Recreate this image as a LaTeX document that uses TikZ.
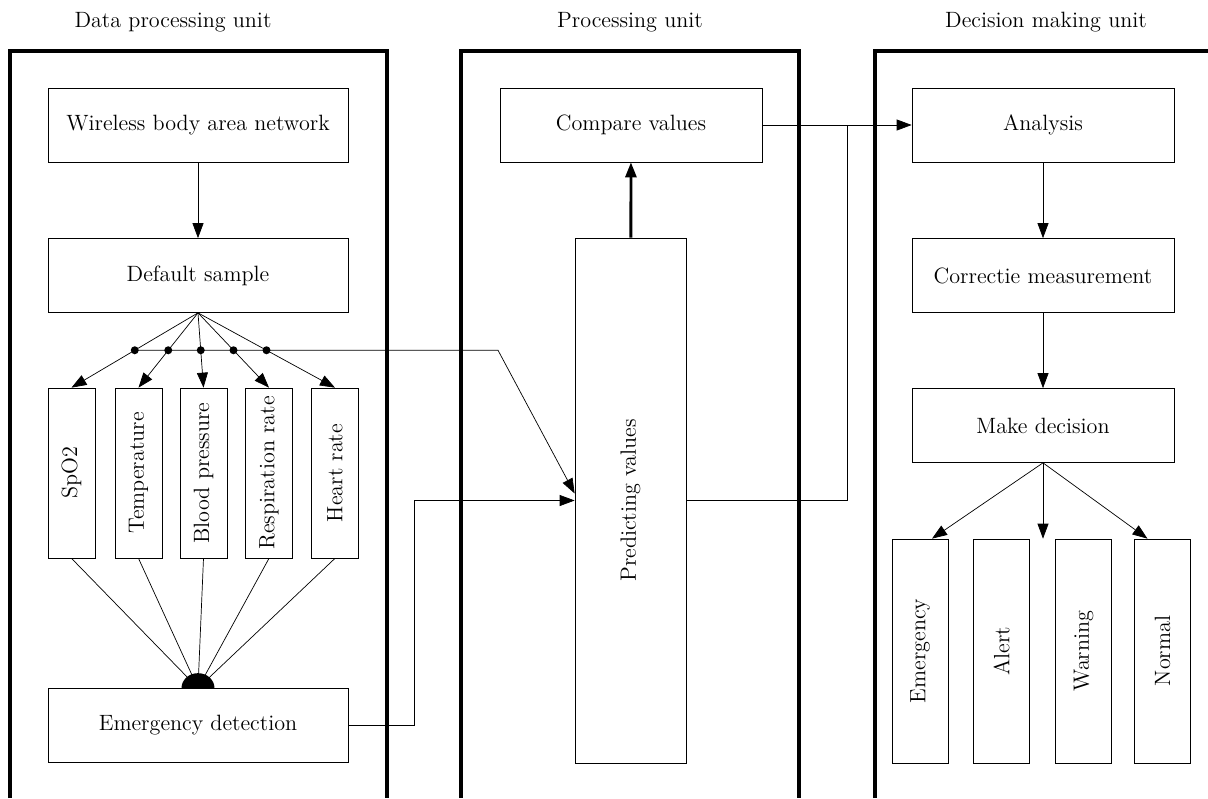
\documentclass[tikz,border=0pt]{standalone}
\usepackage{graphicx}
\usetikzlibrary{arrows.meta, positioning, calc}

\begin{document}
\begin{tikzpicture}[
    >={Triangle[length=3mm, width=2.2mm]},
    font=\fontsize{12.6}{15}\selectfont,
    box/.style={draw, minimum width=6cm, minimum height=1.48cm, align=center},
    pbox/.style={draw, minimum width=5.24cm, minimum height=1.48cm, align=center},
    sensor/.style={draw, minimum width=0.94cm, minimum height=3.4cm, inner sep=1pt},
    outcome/.style={draw, minimum width=1.12cm, minimum height=4.48cm, inner sep=1pt},
    unit/.style={line width=1.8pt},
    dot/.style={circle, fill, inner sep=0pt, minimum size=1.6mm},
]
    \useasboundingbox (0,0) rectangle (24.16,-15.96);

    % Unit frames
    \draw[unit] (0.2,-15.96) -- (0.2,-1.02) -- (7.74,-1.02) -- (7.74,-15.96);
    \draw[unit] (9.22,-15.96) -- (9.22,-1.02) -- (15.98,-1.02) -- (15.98,-15.96);
    \draw[unit] (17.5,-15.96) -- (17.5,-1.02) -- (24.16,-1.02);
    \node (t1) at (3.46,-0.44) {Data processing unit};
    \node (t2) at (12.6,-0.44) {Processing unit};
    \node (t3) at (20.92,-0.44) {Decision making unit};

    % Data processing unit
    \node[box] (wban) at (3.96,-2.5) {Wireless body area network};
    \node[box] (dflt) at (3.96,-5.51) {Default sample};
    \node[sensor] (s1) at (1.43,-9.46) {\rotatebox{90}{SpO2}};
    \node[sensor] (s2) at (2.77,-9.46) {\rotatebox{90}{Temperature}};
    \node[sensor] (s3) at (4.07,-9.46) {\rotatebox{90}{Blood pressure}};
    \node[sensor] (s4) at (5.38,-9.46) {\rotatebox{90}{Respiration rate}};
    \node[sensor] (s5) at (6.70,-9.46) {\rotatebox{90}{Heart rate}};
    \node[box] (emdet) at (3.96,-14.51) {Emergency detection};

    \draw[->] (wban) -- (dflt);
    \foreach \i in {1,...,5} {
        \draw[->] (dflt.south) -- coordinate[pos=0.5] (d\i) (s\i.north);
        \node[dot] at (d\i) {};
        \draw (s\i.south) -- (emdet.north);
    }
    \fill (emdet.north) ++(0.33,0) arc[start angle=0, end angle=180, x radius=0.33, y radius=0.3] -- cycle;

    % Processing unit
    \node[pbox] (cmp) at (12.62,-2.5) {Compare values};
    \node[draw, minimum width=2.22cm, minimum height=10.5cm] (pred) at (12.61,-10.01) {\rotatebox{90}{Predicting values}};
    \coordinate (kink) at (9.96,-7.02);
    \draw[->] (d1) -- (kink |- d1) -- ($(pred.west)+(0,0.14)$);
    \draw[->] (emdet.east) -- ++(1.32,0) |- (pred.west);
    \draw[->, line width=1.6pt] (pred) -- (cmp);

    % Decision making unit
    \node[pbox] (ana) at (20.86,-2.5) {Analysis};
    \node[pbox] (corr) at (20.86,-5.51) {Correctie measurement};
    \node[pbox] (dec) at (20.86,-8.51) {Make decision};
    \node[outcome] (o1) at (18.40,-13.02) {\rotatebox{90}{Emergency}};
    \node[outcome] (o2) at (20.03,-13.02) {\rotatebox{90}{Alert}};
    \node[outcome] (o3) at (21.67,-13.02) {\rotatebox{90}{Warning}};
    \node[outcome] (o4) at (23.25,-13.02) {\rotatebox{90}{Normal}};

    \coordinate (junc) at ($(cmp.east)+(1.7,0)$);
    \draw[->] (cmp.east) -- (ana.west);
    \draw (pred.east) -| (junc);
    \draw[->] (ana) -- (corr);
    \draw[->] (corr) -- (dec);
    \draw[->] (dec.south) -- ($(o1.north)+(0.24,0)$);
    \draw[->] (dec.south) -- (dec.south |- o1.north);
    \draw[->] (dec.south) -- ($(o4.north)+(-0.3,0)$);
\end{tikzpicture}
\end{document}
